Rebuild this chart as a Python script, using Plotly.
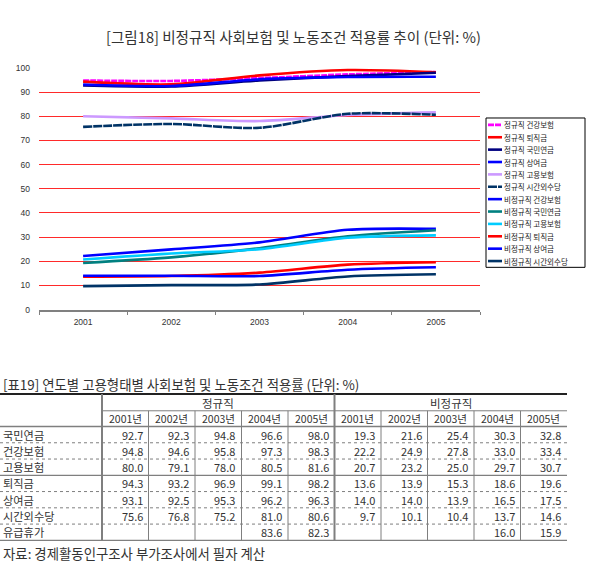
import plotly.graph_objects as go

W, H = 595, 573

# ---------------- data ----------------
years = ["2001", "2002", "2003", "2004", "2005"]
year_labels = ["2001년", "2002년", "2003년", "2004년", "2005년"]
row_labels = ["국민연금", "건강보험", "고용보험", "퇴직금", "상여금", "시간외수당", "유급휴가"]

reg_pension = [92.7, 92.3, 94.8, 96.6, 98.0]
reg_health = [94.8, 94.6, 95.8, 97.3, 98.3]
reg_employ = [80.0, 79.1, 78.0, 80.5, 81.6]
reg_severance = [94.3, 93.2, 96.9, 99.1, 98.2]
reg_bonus = [93.1, 92.5, 95.3, 96.2, 96.3]
reg_overtime = [75.6, 76.8, 75.2, 81.0, 80.6]
reg_leave = [None, None, None, 83.6, 82.3]

irr_pension = [19.3, 21.6, 25.4, 30.3, 32.8]
irr_health = [22.2, 24.9, 27.8, 33.0, 33.4]
irr_employ = [20.7, 23.2, 25.0, 29.7, 30.7]
irr_severance = [13.6, 13.9, 15.3, 18.6, 19.6]
irr_bonus = [14.0, 14.0, 13.9, 16.5, 17.5]
irr_overtime = [9.7, 10.1, 10.4, 13.7, 14.6]
irr_leave = [None, None, None, 16.0, 15.9]

reg_rows = [reg_pension, reg_health, reg_employ, reg_severance, reg_bonus, reg_overtime, reg_leave]
irr_rows = [irr_pension, irr_health, irr_employ, irr_severance, irr_bonus, irr_overtime, irr_leave]

series_names = ["정규직 건강보험", "정규직 퇴직금", "정규직 국민연금", "정규직 상여금",
                "정규직 고용보험", "정규직 시간외수당", "비정규직 건강보험", "비정규직 국민연금",
                "비정규직 고용보험", "비정규직 퇴직금", "비정규직 상여금", "비정규직 시간외수당"]
series_values = [reg_health, reg_severance, reg_pension, reg_bonus, reg_employ, reg_overtime,
                 irr_health, irr_pension, irr_employ, irr_severance, irr_bonus, irr_overtime]
series_colors = ["#FF00FF", "#FF0000", "#000080", "#0000FF", "#CC99FF", "#003366",
                 "#0000FF", "#008080", "#00CCFF", "#FF0000", "#0000FF", "#003366"]
series_dash = ["6px,1px", "solid", "solid", "solid", "solid", "9px,1px",
               "solid", "solid", "solid", "solid", "solid", "solid"]

y_ticks = [0, 10, 20, 30, 40, 50, 60, 70, 80, 90, 100]

# ---------------- helpers ----------------
def px(x):
    return x / W

def py(y):
    return 1 - y / H

KR = "Noto Sans CJK KR"
fig = go.Figure()

for name, vals, col, dash in zip(series_names, series_values, series_colors, series_dash):
    fig.add_trace(go.Scatter(
        x=years, y=vals, name=name, mode="lines",
        line=dict(color=col, width=2.6, dash=dash, shape="spline", smoothing=0.8),
        showlegend=False, hoverinfo="skip"))

shapes = []
annotations = []

# title
annotations.append(dict(text="[그림18] 비정규직 사회보험 및 노동조건 적용률 추이 (단위: %)",
                        x=px(293), y=py(32), xref="paper", yref="paper",
                        xanchor="center", yanchor="middle", showarrow=False,
                        font=dict(family=KR, size=14.6, color="#333333")))

# manual legend
lx0, lx1, ly0, ly1 = 486, 585, 115, 267
shapes.append(dict(type="rect", xref="paper", yref="paper",
                   x0=px(lx0), x1=px(lx1), y0=py(ly1), y1=py(ly0),
                   line=dict(color="#000000", width=1), fillcolor="white", layer="above"))
first_y, gap = 122, 12.6
for i, (name, col, dash) in enumerate(zip(series_names, series_colors, series_dash)):
    yy = first_y + i * gap
    shapes.append(dict(type="line", xref="paper", yref="paper",
                       x0=px(488), x1=px(502), y0=py(yy), y1=py(yy),
                       line=dict(color=col, width=2.6, dash=dash), layer="above"))
    annotations.append(dict(text=name, x=px(503), y=py(yy), xref="paper", yref="paper",
                            xanchor="left", yanchor="middle", showarrow=False, borderpad=0,
                            font=dict(family=KR, size=7.5, color="#222222")))

# ---------------- table ----------------
tcol = "#333333"
annotations.append(dict(text="[표19] 연도별 고용형태별 사회보험 및 노동조건 적용률 (단위: %)",
                        x=px(2), y=py(386), xref="paper", yref="paper",
                        xanchor="left", yanchor="middle", showarrow=False, borderpad=0,
                        font=dict(family=KR, size=13.4, color=tcol)))
annotations.append(dict(text="자료: 경제활동인구조사 부가조사에서 필자 계산",
                        x=px(2), y=py(558), xref="paper", yref="paper",
                        xanchor="left", yanchor="middle", showarrow=False, borderpad=0,
                        font=dict(family=KR, size=13.4, color=tcol)))

col_edges = [102 + i * 46.5 for i in range(11)]
t_top, h1, h2 = 396, 413, 429
row_h = 16.55
row_lines = [h2 + (i + 1) * row_h for i in range(len(row_labels))]
t_bot = row_lines[-1]
gray = "#7f7f7f"

def hline(x0, x1, y, color=gray, width=1, dash="solid"):
    shapes.append(dict(type="line", xref="paper", yref="paper",
                       x0=px(x0), x1=px(x1), y0=py(y), y1=py(y),
                       line=dict(color=color, width=width, dash=dash)))

def vline(x, y0, y1, color=gray, width=1):
    shapes.append(dict(type="line", xref="paper", yref="paper",
                       x0=px(x), x1=px(x), y0=py(y0), y1=py(y1),
                       line=dict(color=color, width=width)))

hline(0, col_edges[-1], t_top, color="#222222", width=2)
hline(col_edges[0], col_edges[-1], h1, width=1)
hline(0, col_edges[-1], h2, width=1.5)
solid_after = {2, 6}
for i, yl in enumerate(row_lines):
    if i in solid_after:
        hline(0, col_edges[-1], yl, width=1.3)
    else:
        hline(0, col_edges[-1], yl, width=1, dash="dot")

vline(col_edges[0], t_top, t_bot, width=2)
vline(col_edges[5], t_top, t_bot, width=2)
for k in [1, 2, 3, 4, 6, 7, 8, 9]:
    vline(col_edges[k], h1, t_bot, width=1)

# header texts
annotations.append(dict(text="정규직", x=px((col_edges[0] + col_edges[5]) / 2), y=py(405.5),
                        xref="paper", yref="paper", xanchor="center", yanchor="middle", borderpad=0,
                        showarrow=False, font=dict(family=KR, size=11.5, color=tcol)))
annotations.append(dict(text="비정규직", x=px((col_edges[5] + col_edges[10]) / 2), y=py(405.5),
                        xref="paper", yref="paper", xanchor="center", yanchor="middle", borderpad=0,
                        showarrow=False, font=dict(family=KR, size=11.5, color=tcol)))
for k in range(10):
    annotations.append(dict(text=year_labels[k % 5],
                            x=px((col_edges[k] + col_edges[k + 1]) / 2), y=py((h1 + h2) / 2),
                            xref="paper", yref="paper", xanchor="center", yanchor="middle", borderpad=0,
                            showarrow=False, font=dict(family=KR, size=10.5, color=tcol)))

for r, lab in enumerate(row_labels):
    yc = h2 + (r + 0.5) * row_h
    annotations.append(dict(text=lab, x=px(2), y=py(yc), xref="paper", yref="paper",
                            xanchor="left", yanchor="middle", showarrow=False, borderpad=0,
                            font=dict(family=KR, size=11.2, color=tcol)))
    vals = reg_rows[r] + irr_rows[r]
    for k, v in enumerate(vals):
        if v is None:
            continue
        annotations.append(dict(text=f"{v:.1f}", x=px(col_edges[k + 1] - 5), y=py(yc),
                                xref="paper", yref="paper", xanchor="right", yanchor="middle",
                                showarrow=False, borderpad=0,
                                font=dict(family=KR, size=11, color=tcol)))

fig.update_layout(
    width=W, height=H, margin=dict(l=0, r=0, t=0, b=0),
    paper_bgcolor="white", plot_bgcolor="white",
    showlegend=False,
    shapes=shapes, annotations=annotations,
    xaxis=dict(domain=[px(39), px(480)], type="category", range=[-0.5, 4.5],
               showgrid=False, showline=True, linecolor="#808080", linewidth=2,
               ticks="outside", tickson="boundaries", ticklen=3, tickcolor="#808080",
               ticklabelstandoff=3,
               tickfont=dict(family="Liberation Sans", size=8.5, color="#333333"),
               fixedrange=True),
    yaxis=dict(domain=[py(310), py(64)], range=[0, 100], tickvals=y_ticks,
               showgrid=True, gridcolor="#FF2A2A", gridwidth=1, zeroline=False,
               showline=False, ticks="", ticklabelstandoff=8,
               tickfont=dict(family="Liberation Sans", size=8.5, color="#333333"),
               fixedrange=True),
)

fig.write_html("out.html")
